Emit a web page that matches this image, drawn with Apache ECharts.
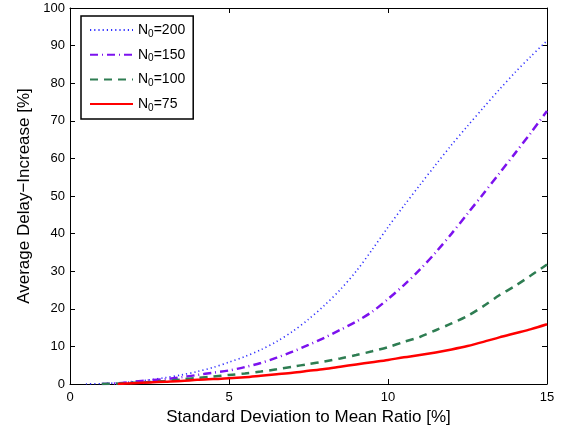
<!DOCTYPE html>
<html>
<head>
<meta charset="utf-8">
<script src="https://cdn.jsdelivr.net/npm/echarts@6/dist/echarts.min.js"></script>
<style>
html,body{margin:0;padding:0;background:#fff;}
#chart{width:568px;height:432px;}
</style>
</head>
<body>
<div id="chart"></div>
<script>
// x values (standard deviation to mean ratio, %)
var xs = [0.5,1,1.5,2,2.5,3,3.5,4,4.5,5,5.5,6,6.5,7,7.5,8,8.5,9,9.5,10,10.5,11,11.5,12,12.5,13,13.5,14,14.5,15];
var legendLabels = ['N0=200','N0=150','N0=100','N0=75'];
var n200 = [0,0.1,0.3,0.6,1.1,1.7,2.4,3.3,4.4,5.8,7.3,9.1,11.3,14.0,17.2,20.9,25.1,30.0,35.7,41.7,47.4,52.9,58.3,63.6,68.6,73.5,78.3,82.9,87.2,91.3];
var n150 = [null,0,0.2,0.6,1.0,1.3,1.8,2.4,3.0,3.6,4.5,5.6,7.0,8.6,10.4,12.3,14.4,16.6,19.2,22.6,26.3,30.4,35.0,40.0,45.3,50.6,56.0,61.4,66.9,72.6];
var n100 = [null,0,0.1,0.3,0.5,0.8,1.2,1.6,2.0,2.4,2.8,3.3,3.9,4.6,5.3,6.0,6.8,7.7,8.7,9.8,11.2,12.5,14.3,16.1,18.1,20.7,23.6,26.1,28.9,31.8];
var n75  = [null,null,0,0.2,0.4,0.6,0.8,1.1,1.3,1.5,1.8,2.2,2.6,3.0,3.5,4.0,4.6,5.2,5.8,6.4,7.1,7.7,8.4,9.2,10.1,11.2,12.4,13.5,14.6,15.9];
var xTicks = [0,5,10,15];

function pairs(vals){
  var out = [];
  for (var i=0;i<xs.length;i++){ if (vals[i]!==null) out.push([xs[i], vals[i]]); }
  return out;
}
var FONT = 'Helvetica, "Liberation Sans", Arial, sans-serif';
var chart = echarts.init(document.getElementById('chart'), null, {renderer:'canvas'});
var axisCommon = {
  axisLine:{show:true,onZero:false,lineStyle:{color:'#000',width:1}},
  axisTick:{show:true,inside:true,length:5,lineStyle:{color:'#000',width:1}},
  splitLine:{show:false}
};
var option = {
  animation:false,
  backgroundColor:'#fff',
  grid:{left:70,right:21,top:8,bottom:48,containLabel:false},
  legend:{
    orient:'vertical', left:81, top:16,
    padding:[7,8,6,8], itemGap:8.7, itemWidth:43, itemHeight:14,
    borderColor:'#000', borderWidth:1.5, backgroundColor:'#fff',
    itemStyle:{color:'rgba(0,0,0,0)',borderWidth:0,opacity:0},
    data:legendLabels,
    formatter:function(name){ return '{n|N}{s|0}{n|' + name.slice(2) + '}'; },
    textStyle:{fontFamily:FONT, color:'#000', fontSize:14,
      rich:{n:{fontSize:14,fontFamily:FONT,color:'#000'}, s:{fontSize:10,fontFamily:FONT,color:'#000',padding:[8,0,0,0]}}}
  },
  xAxis:[
    Object.assign({type:'value',min:0,max:15,interval:5,position:'bottom',
      name:'Standard Deviation to Mean Ratio [%]',nameLocation:'middle',nameGap:22,
      nameTextStyle:{fontFamily:FONT,fontSize:17,color:'#000'},
      axisLabel:{fontFamily:FONT,fontSize:13,color:'#000',margin:7}}, axisCommon),
    Object.assign({type:'value',min:0,max:15,interval:5,position:'top',axisLabel:{show:false}}, axisCommon)
  ],
  yAxis:[
    Object.assign({type:'value',min:0,max:100,interval:10,position:'left',
      name:'Average Delay\u2212Increase [%]',nameLocation:'middle',nameGap:33,nameRotate:90,
      nameTextStyle:{fontFamily:FONT,fontSize:17,color:'#000'},
      axisLabel:{fontFamily:FONT,fontSize:13,color:'#000',margin:5}}, axisCommon),
    Object.assign({type:'value',min:0,max:100,interval:10,position:'right',axisLabel:{show:false}}, axisCommon)
  ],
  series:[
    {name:legendLabels[0],type:'line',data:pairs(n200),symbol:'none',smooth:0.3,
      lineStyle:{color:'#3030ff',width:1.6,type:[1.2,3]},itemStyle:{color:'#3030ff'}},
    {name:legendLabels[1],type:'line',data:pairs(n150),symbol:'none',smooth:0.3,
      lineStyle:{color:'#7c12ee',width:2.5,type:[8,4,1,4]},itemStyle:{color:'#7c12ee'}},
    {name:legendLabels[2],type:'line',data:pairs(n100),symbol:'none',smooth:0.3,
      lineStyle:{color:'#2e7d52',width:2.5,type:[8,6]},itemStyle:{color:'#2e7d52'}},
    {name:legendLabels[3],type:'line',data:pairs(n75),symbol:'none',smooth:0.3,
      lineStyle:{color:'#ff0000',width:2.5,type:'solid'},itemStyle:{color:'#ff0000'}}
  ]
};
chart.setOption(option);
</script>
</body>
</html>
